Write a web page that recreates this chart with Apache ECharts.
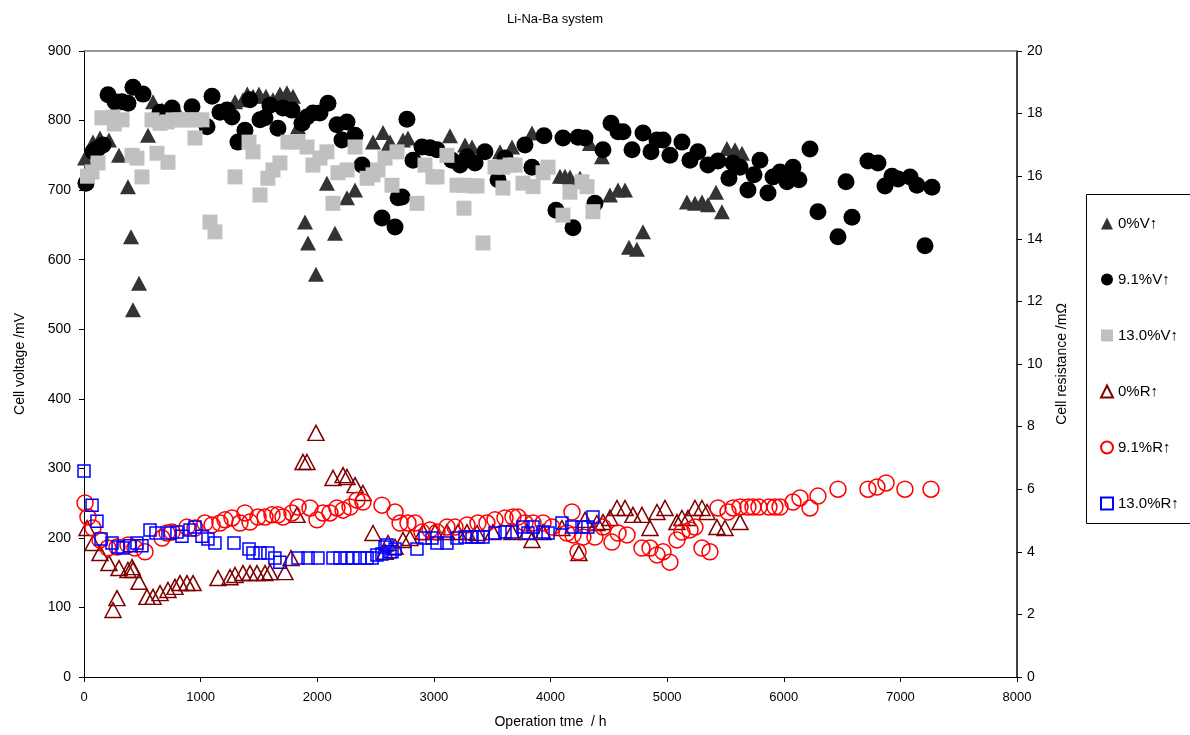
<!DOCTYPE html>
<html><head><meta charset="utf-8">
<script src="https://cdn.jsdelivr.net/npm/echarts@6/dist/echarts.min.js"></script>
<style>html,body{margin:0;padding:0;background:#fff}#c{width:1190px;height:735px}</style>
</head><body><div id="c"></div>
<script>
const titleText = 'Li-Na-Ba system';
const seriesNames = ['0%V\u2191','9.1%V\u2191','13.0%V\u2191','0%R\u2191','9.1%R\u2191','13.0%R\u2191'];
const xTicks = [0,1000,2000,3000,4000,5000,6000,7000,8000];
const leftTicks = [0,100,200,300,400,500,600,700,800,900];
const rightTicks = [0,2,4,6,8,10,12,14,16,18,20];

const v0 = [[9,746],[77,769],[137,775],[214,772],[249,812],[300,750],[377,705],[403,633],[420,528],[472,566],[549,779],[592,827],[669,815],[720,812],[797,815],[1295,827],[1363,830],[1400,838],[1450,835],[1500,838],[1560,835],[1620,830],[1680,838],[1740,840],[1792,835],[1835,791],[1895,654],[1921,624],[1989,579],[2083,710],[2152,638],[2255,689],[2324,700],[2478,769],[2564,783],[2615,767],[2624,769],[2735,772],[2778,775],[3138,778],[3267,765],[3327,762],[3567,755],[3670,762],[3841,782],[4081,720],[4124,720],[4167,719],[4253,717],[4338,767],[4441,748],[4510,693],[4579,700],[4639,700],[4673,618],[4741,615],[4793,640],[5170,683],[5239,681],[5299,683],[5350,679],[5419,697],[5470,669],[5513,760],[5582,758],[5642,753]];
const v91 = [[17,710],[77,755],[120,760],[163,765],[206,837],[266,827],[326,827],[377,825],[420,848],[506,838],[652,812],[755,818],[926,820],[1055,791],[1098,835],[1166,812],[1226,815],[1269,805],[1320,769],[1380,786],[1423,830],[1509,801],[1552,804],[1595,822],[1663,789],[1706,818],[1783,815],[1869,796],[1912,805],[1963,811],[2023,811],[2092,825],[2169,794],[2212,772],[2255,798],[2324,779],[2384,736],[2555,660],[2667,647],[2693,689],[2727,690],[2769,802],[2821,743],[2898,762],[2967,761],[3027,758],[3155,743],[3224,736],[3284,748],[3353,739],[3438,755],[3550,715],[3610,746],[3781,765],[3841,733],[3944,778],[4047,671],[4107,775],[4193,646],[4236,776],[4296,775],[4381,681],[4450,758],[4519,796],[4579,784],[4622,784],[4699,758],[4793,782],[4862,755],[4913,772],[4965,772],[5024,750],[5127,769],[5196,743],[5264,755],[5350,736],[5436,742],[5530,717],[5565,739],[5625,733],[5693,700],[5745,722],[5796,743],[5865,696],[5908,719],[5968,726],[6028,712],[6079,733],[6130,715],[6225,759],[6293,669],[6465,633],[6534,712],[6585,661],[6722,742],[6808,739],[6868,706],[6928,720],[6980,716],[7083,719],[7142,707],[7211,620],[7271,704]];
const v13 = [[30,720],[69,726],[120,739],[154,804],[249,805],[260,795],[326,801],[412,750],[454,746],[497,719],[583,801],[626,753],[652,796],[712,798],[720,740],[763,801],[823,801],[883,801],[952,775],[952,801],[1012,801],[1080,654],[1123,640],[1295,719],[1415,769],[1449,755],[1509,693],[1577,717],[1620,729],[1680,739],[1749,769],[1835,769],[1912,762],[1963,736],[2023,746],[2083,755],[2135,681],[2178,725],[2255,729],[2324,762],[2427,717],[2478,722],[2521,729],[2581,746],[2641,707],[2684,755],[2855,681],[2924,736],[2992,719],[3027,719],[3112,750],[3198,707],[3258,674],[3267,707],[3336,706],[3370,706],[3421,624],[3524,733],[3592,733],[3592,703],[3653,736],[3696,736],[3764,710],[3850,705],[3936,725],[3979,733],[4107,664],[4167,697],[4270,712],[4313,705],[4364,669]];
const r0 = [[26,4.76],[77,4.28],[137,3.96],[214,3.64],[249,2.14],[283,2.52],[300,3.48],[377,3.42],[412,3.51],[420,3.42],[472,3.04],[540,2.56],[592,2.56],[652,2.68],[720,2.78],[780,2.88],[823,3.0],[883,3.0],[935,3.0],[1149,3.16],[1252,3.19],[1295,3.26],[1363,3.32],[1423,3.32],[1483,3.32],[1552,3.32],[1595,3.35],[1723,3.35],[1775,3.8],[1826,5.18],[1878,6.87],[1912,6.87],[1989,7.8],[2135,6.36],[2221,6.45],[2255,6.39],[2324,6.13],[2392,5.88],[2478,4.6],[2581,4.0],[2607,4.28],[2667,4.16],[2735,4.38],[2795,4.44],[2907,4.63],[3010,4.63],[3112,4.63],[3207,4.63],[3284,4.63],[3370,4.6],[3507,4.63],[3670,4.63],[3798,4.63],[3841,4.38],[3936,4.63],[4098,4.76],[4244,3.96],[4296,5.02],[4398,4.92],[4450,4.95],[4510,5.08],[4570,5.4],[4639,5.4],[4707,5.18],[4784,5.18],[4853,4.76],[4913,5.27],[4982,5.4],[5084,4.95],[5127,5.08],[5179,5.08],[5239,5.4],[5299,5.4],[5342,5.27],[5427,4.79],[5496,4.76],[5625,4.95]];
const r91 = [[9,5.56],[34,5.11],[77,4.76],[137,4.38],[206,4.12],[283,4.15],[377,4.22],[437,4.12],[523,4.0],[669,4.44],[712,4.6],[755,4.63],[883,4.79],[952,4.76],[1037,4.92],[1098,4.86],[1166,4.92],[1209,5.02],[1269,5.08],[1337,4.92],[1380,5.24],[1423,4.95],[1492,5.11],[1552,5.11],[1612,5.18],[1663,5.18],[1706,5.11],[1783,5.24],[1835,5.43],[1938,5.4],[1998,5.02],[2049,5.24],[2109,5.24],[2169,5.4],[2221,5.33],[2281,5.43],[2341,5.65],[2392,5.59],[2555,5.49],[2667,5.27],[2710,4.92],[2778,4.92],[2838,4.92],[2898,4.63],[2967,4.7],[3027,4.63],[3112,4.79],[3181,4.79],[3284,4.86],[3378,4.92],[3455,4.92],[3524,5.02],[3610,5.08],[3678,5.11],[3721,5.11],[3781,4.92],[3850,4.92],[3936,4.92],[4013,4.79],[4141,4.6],[4184,5.27],[4193,4.54],[4236,4.0],[4278,4.47],[4381,4.47],[4450,4.79],[4527,4.31],[4579,4.6],[4656,4.54],[4784,4.12],[4853,4.12],[4913,3.9],[4965,4.0],[5024,3.67],[5084,4.38],[5127,4.63],[5196,4.7],[5239,4.79],[5299,4.12],[5367,4.0],[5436,5.4],[5522,5.27],[5565,5.4],[5625,5.43],[5693,5.43],[5736,5.43],[5787,5.43],[5873,5.43],[5925,5.43],[5968,5.43],[6079,5.59],[6139,5.72],[6225,5.4],[6293,5.78],[6465,6.0],[6722,6.0],[6799,6.07],[6877,6.2],[7039,6.0],[7262,6.0]];
const r13 = [[0,6.58],[69,5.49],[111,4.98],[146,4.41],[240,4.28],[292,4.15],[334,4.12],[394,4.19],[454,4.28],[497,4.19],[566,4.7],[617,4.6],[737,4.6],[797,4.63],[840,4.5],[909,4.7],[952,4.79],[1012,4.5],[1063,4.41],[1123,4.28],[1286,4.28],[1415,4.09],[1449,3.96],[1509,3.96],[1577,3.96],[1637,3.8],[1680,3.67],[1835,3.8],[1921,3.8],[2006,3.8],[2135,3.8],[2195,3.8],[2255,3.8],[2306,3.8],[2366,3.8],[2427,3.8],[2470,3.8],[2512,3.9],[2555,3.93],[2581,4.15],[2598,4.22],[2624,4.0],[2641,4.0],[2667,4.09],[2855,4.09],[2924,4.44],[2984,4.44],[3027,4.28],[3112,4.28],[3198,4.44],[3267,4.47],[3327,4.47],[3378,4.47],[3421,4.47],[3524,4.6],[3610,4.63],[3670,4.63],[3764,4.79],[3807,4.6],[3850,4.79],[3936,4.63],[3979,4.6],[4098,4.92],[4184,4.79],[4270,4.79],[4321,4.79],[4364,5.11]];

const FONT = 'Liberation Sans, Arial, sans-serif';
const chart = echarts.init(document.getElementById('c'), null, {renderer:'canvas'});
function filled(name, data, symbol, size, color) {
  return {name, type:'scatter', yAxisIndex:0, data, symbol, symbolSize:size,
    itemStyle:{color, opacity:1}, emphasis:{disabled:true}, animation:false};
}
function open(name, data, symbol, size, color) {
  return {name, type:'scatter', yAxisIndex:1, data, symbol, symbolSize:size,
    itemStyle:{color:'rgba(255,255,255,0)', borderColor:color, borderWidth:1.5, opacity:1},
    emphasis:{disabled:true}, animation:false};
}
const plain = v => String(v);
const option = {
  backgroundColor:'#fff',
  animation:false,
  textStyle:{fontFamily:FONT},
  title:{text:titleText, left:550, top:8, textAlign:'center',
    textStyle:{fontSize:13, fontWeight:'normal', color:'#000', fontFamily:FONT}},
  grid:{left:84, right:173, top:51, bottom:58, containLabel:false},
  legend:{orient:'vertical', left:1095, top:211, itemWidth:12, itemHeight:12, itemGap:41,
    textStyle:{fontSize:15, color:'#000', fontFamily:FONT}, selectedMode:false,
    data:seriesNames},
  graphic:[{type:'rect', shape:{x:1086.5, y:194.5, width:130, height:329},
    style:{fill:'none', stroke:'#000', lineWidth:1}, silent:true}],
  xAxis:[{type:'value', min:xTicks[0], max:xTicks[xTicks.length-1], interval:1000,
    name:'Operation tme  / h', nameLocation:'middle', nameGap:38,
    nameTextStyle:{fontSize:14, color:'#000', fontFamily:FONT},
    axisLine:{show:true, onZero:false, lineStyle:{color:'#000', width:1}},
    axisTick:{show:true, inside:false, length:5, lineStyle:{color:'#000'}},
    axisLabel:{fontSize:13, color:'#000', margin:14, fontFamily:FONT, formatter:plain},
    splitLine:{show:false}},
    {type:'value', position:'top', min:0, max:8000, axisLine:{show:true, onZero:false, lineStyle:{color:'#777', width:1.5}},
     axisTick:{show:false}, axisLabel:{show:false}, splitLine:{show:false}}],
  yAxis:[{type:'value', position:'left', min:leftTicks[0], max:leftTicks[leftTicks.length-1], interval:100,
    name:'Cell voltage /mV', nameLocation:'middle', nameGap:57,
    nameTextStyle:{fontSize:14, color:'#000', fontFamily:FONT},
    axisLine:{show:true, onZero:false, lineStyle:{color:'#000', width:1}},
    axisTick:{show:true, inside:false, length:5, lineStyle:{color:'#000'}},
    axisLabel:{fontSize:14, color:'#000', margin:13, fontFamily:FONT, formatter:plain},
    splitLine:{show:false}},
   {type:'value', position:'right', min:rightTicks[0], max:rightTicks[rightTicks.length-1], interval:2,
    name:'Cell resistance /m\u03A9', nameLocation:'middle', nameGap:38,
    nameTextStyle:{fontSize:14, color:'#000', fontFamily:FONT},
    axisLine:{show:true, onZero:false, lineStyle:{color:'#000', width:1.5}},
    axisTick:{show:true, inside:false, length:5, lineStyle:{color:'#000'}},
    axisLabel:{fontSize:14, color:'#000', margin:10, fontFamily:FONT, formatter:plain},
    splitLine:{show:false}}],
  series:[
    filled(seriesNames[0], v0, 'triangle', [16,15], '#333333'),
    filled(seriesNames[1], v91, 'circle', 17, '#000000'),
    filled(seriesNames[2], v13, 'rect', 15, '#c0c0c0'),
    open(seriesNames[3], r0, 'triangle', [16,15], '#800000'),
    open(seriesNames[4], r91, 'circle', 16, '#ff0000'),
    open(seriesNames[5], r13, 'rect', 12, '#0000ff')
  ]
};
chart.setOption(option);
</script>
</body></html>
